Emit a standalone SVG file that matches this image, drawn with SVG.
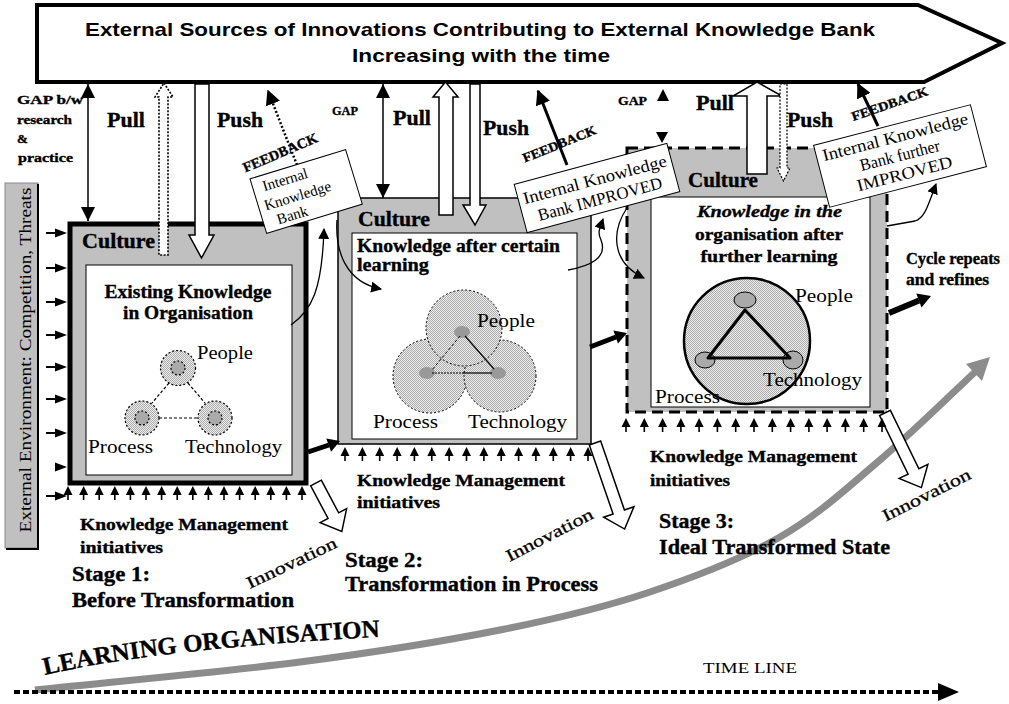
<svg xmlns="http://www.w3.org/2000/svg" width="1009" height="704" viewBox="0 0 1009 704">
<style>
text{font-family:"Liberation Serif","Times New Roman",serif;fill:#000}
.b{font-weight:bold;stroke:#000;stroke-width:0.35}
.i{font-style:italic}
.sans{font-family:"Liberation Sans",Arial,sans-serif;font-weight:bold}
.ln{fill:none;stroke:#000;stroke-width:1.3}
.gbox{fill:#c0c0c0}
.wbox{fill:#fff;stroke:#000;stroke-width:1}
.note{fill:#fff;stroke:#000;stroke-width:1}
.hol{fill:#fff;stroke:#000;stroke-width:1.5;stroke-linejoin:miter}
.stip{fill:url(#st)}
.inn{stroke:#000;stroke-width:0.3}
</style>
<defs>
<pattern id="st" width="2" height="2" patternUnits="userSpaceOnUse"><rect width="2" height="2" fill="#eeeeee"/><rect width="1" height="1" fill="#ababab"/><rect x="1" y="1" width="1" height="1" fill="#ababab"/></pattern>
<marker id="gh" viewBox="0 0 10 10" refX="10" refY="5" markerWidth="14" markerHeight="14" markerUnits="userSpaceOnUse" orient="auto-start-reverse"><path d="M0,0 L10,5 L0,10 z"/></marker>
<marker id="fh" viewBox="0 0 10 10" refX="9" refY="5" markerWidth="15" markerHeight="15" markerUnits="userSpaceOnUse" orient="auto"><path d="M0,0 L10,5 L0,10 z"/></marker>
<marker id="ch" viewBox="0 0 10 10" refX="9" refY="5" markerWidth="11" markerHeight="11" markerUnits="userSpaceOnUse" orient="auto"><path d="M0,0 L10,5 L0,10 z"/></marker>
<g id="ua"><path d="M0,0 L4.5,9 L-4.5,9 Z"/><line x1="0" y1="8" x2="0" y2="14" stroke="#000" stroke-width="1.6"/></g>
<g id="ra"><line x1="-21" y1="0" x2="-10" y2="0" stroke="#000" stroke-width="2"/><path d="M0,0 L-12,-4.5 L-12,4.5 Z"/></g>
</defs>

<rect width="1009" height="704" fill="#fff"/>

<!-- Banner -->
<g id="banner">
<path d="M37,5 L918,5 L1002,43 L924,82 L37,82 Z" fill="#fff" stroke="#000" stroke-width="4"/>
<text class="sans" x="480" y="36" text-anchor="middle" font-size="19" textLength="790" lengthAdjust="spacingAndGlyphs">External Sources of Innovations Contributing to External Knowledge Bank</text>
<text class="sans" x="481" y="62" text-anchor="middle" font-size="19" textLength="258" lengthAdjust="spacingAndGlyphs">Increasing with the time</text>
</g>

<!-- External environment -->
<g id="ext-env">
<rect x="5" y="183" width="33" height="365" fill="#c0c0c0" stroke="#888" stroke-width="1"/>
<path d="M38,184 V549 H6" fill="none" stroke="#000" stroke-width="2"/>
<text transform="translate(31,360) rotate(-90)" text-anchor="middle" font-size="17" textLength="345" lengthAdjust="spacingAndGlyphs">External Environment: Competition, Threats</text>
</g>

<!-- Learning organisation curve -->
<g id="learning-curve">
<path d="M35,690 C79,685 222.5,672 300,662 C377.5,652 442,641.5 500,630 C557.8,618.5 600.3,608.5 647,593 C693.7,577.5 741.2,559.2 780,537 C818.8,514.8 847.5,487.5 880,460 C912.5,432.5 959.2,386.7 975,372" fill="none" stroke="#8c8c8c" stroke-width="7"/>
<polygon points="990,357 982,381 966,364" fill="#8c8c8c"/>
<path id="lop" d="M45,675 Q160,648 395,636" fill="none"/>
<text class="b" font-size="25"><textPath href="#lop">LEARNING ORGANISATION</textPath></text>
</g>

<!-- Stage 1 -->
<g id="stage1">
<rect x="70" y="224" width="236" height="259" class="gbox" stroke="#000" stroke-width="5"/>
<rect x="86" y="265" width="206" height="210" class="wbox"/>
<text class="b" x="82" y="248" font-size="20" textLength="73" lengthAdjust="spacingAndGlyphs">Culture</text>
<text class="b" x="188" y="298" text-anchor="middle" font-size="18" textLength="167" lengthAdjust="spacingAndGlyphs">Existing Knowledge</text>
<text class="b" x="188" y="319" text-anchor="middle" font-size="18" textLength="130" lengthAdjust="spacingAndGlyphs">in Organisation</text>
<g stroke="#000" stroke-width="1.2" stroke-dasharray="3,2">
<line x1="169" y1="383" x2="152" y2="403"/>
<line x1="188" y1="383" x2="205" y2="403"/>
<line x1="159" y1="418" x2="198" y2="418"/>
</g>
<g stroke="#000" stroke-width="1.2" stroke-dasharray="2,2">
<circle cx="178" cy="368" r="17.5" class="stip"/>
<circle cx="142" cy="418" r="17" class="stip"/>
<circle cx="215" cy="418" r="17" class="stip"/>
<circle cx="178" cy="368" r="7" fill="#aaa"/>
<circle cx="142" cy="418" r="7" fill="#aaa"/>
<circle cx="215" cy="418" r="7" fill="#aaa"/>
</g>
<text x="197" y="359" font-size="18" textLength="56" lengthAdjust="spacingAndGlyphs">People</text>
<text x="88" y="453" font-size="18" textLength="65" lengthAdjust="spacingAndGlyphs">Process</text>
<text x="185" y="453" font-size="18" textLength="97" lengthAdjust="spacingAndGlyphs">Technology</text>
</g>

<!-- Stage 2 -->
<g id="stage2">
<rect x="338" y="198" width="253" height="246" class="gbox" stroke="#000" stroke-width="1.5"/>
<rect x="352" y="233" width="225" height="206" class="wbox"/>
<text class="b" x="358" y="226" font-size="20" textLength="72" lengthAdjust="spacingAndGlyphs">Culture</text>
<text class="b" x="357" y="252" font-size="18" textLength="203" lengthAdjust="spacingAndGlyphs">Knowledge after certain</text>
<text class="b" x="357" y="271" font-size="18" textLength="72" lengthAdjust="spacingAndGlyphs">learning</text>
<g stroke="#000" stroke-width="1" stroke-dasharray="2,2">
<circle cx="430" cy="376" r="37" class="stip"/>
<circle cx="500" cy="376" r="36" class="stip"/>
<circle cx="464" cy="328" r="38" class="stip"/>
</g>
<ellipse cx="462" cy="332" rx="8" ry="6" fill="#999"/>
<ellipse cx="427" cy="373" rx="8" ry="6" fill="#999"/>
<ellipse cx="498" cy="373" rx="8" ry="6" fill="#999"/>
<line x1="460" y1="336" x2="432" y2="370" stroke="#000" stroke-width="1" stroke-dasharray="3,2"/>
<line x1="465" y1="336" x2="494" y2="369" stroke="#000" stroke-width="1.2"/>
<line x1="432" y1="373" x2="462" y2="373" stroke="#000" stroke-width="1" stroke-dasharray="2,1"/>
<line x1="462" y1="373" x2="492" y2="373" stroke="#000" stroke-width="1.2"/>
<text x="477" y="327" font-size="18" textLength="58" lengthAdjust="spacingAndGlyphs">People</text>
<text x="373" y="428" font-size="18" textLength="65" lengthAdjust="spacingAndGlyphs">Process</text>
<text x="468" y="428" font-size="18" textLength="99" lengthAdjust="spacingAndGlyphs">Technology</text>
</g>

<!-- Stage 3 -->
<g id="stage3">
<rect x="627" y="148" width="260" height="264" class="gbox" stroke="#000" stroke-width="3" stroke-dasharray="11,6"/>
<rect x="651" y="197" width="219" height="210" class="wbox"/>
<text class="b" x="688" y="187" font-size="20" textLength="70" lengthAdjust="spacingAndGlyphs">Culture</text>
<text class="b i" x="697" y="217" font-size="17" textLength="145" lengthAdjust="spacingAndGlyphs">Knowledge in the</text>
<text class="b" x="769" y="240" text-anchor="middle" font-size="17" textLength="148" lengthAdjust="spacingAndGlyphs">organisation after</text>
<text class="b" x="769" y="262" text-anchor="middle" font-size="17" textLength="137" lengthAdjust="spacingAndGlyphs">further learning</text>
<circle cx="747" cy="341" r="63" class="stip" stroke="#000" stroke-width="2.5"/>
<ellipse cx="745" cy="300" rx="11" ry="8" fill="#aaa" stroke="#000" stroke-width="1"/>
<ellipse cx="705" cy="360" rx="10" ry="8" fill="#aaa" stroke="#000" stroke-width="1"/>
<ellipse cx="793" cy="360" rx="10" ry="9" fill="#aaa" stroke="#000" stroke-width="1"/>
<polygon points="745,310 708,358 790,358" fill="none" stroke="#000" stroke-width="3" stroke-linejoin="round"/>
<text x="795" y="302" font-size="18" textLength="58" lengthAdjust="spacingAndGlyphs">People</text>
<text x="763" y="386" font-size="18" textLength="99" lengthAdjust="spacingAndGlyphs">Technology</text>
<text x="655" y="403" font-size="18" textLength="65" lengthAdjust="spacingAndGlyphs">Process</text>
</g>

<!-- Connectors -->
<g id="connectors">
<use href="#ra" x="67" y="233"/>
<use href="#ra" x="67" y="268"/>
<use href="#ra" x="67" y="302"/>
<use href="#ra" x="67" y="335"/>
<use href="#ra" x="67" y="367"/>
<use href="#ra" x="67" y="399"/>
<use href="#ra" x="67" y="433"/>
<path d="M67,467 L55,462.5 L55,471.5 Z"/>
<use href="#ra" x="67" y="496"/>

<line x1="88" y1="84" x2="88" y2="221" stroke="#000" stroke-width="1.5" marker-start="url(#gh)" marker-end="url(#gh)"/>
<line x1="383" y1="84" x2="383" y2="198" stroke="#000" stroke-width="1.5" marker-start="url(#gh)" marker-end="url(#gh)"/>
<path d="M663,89 L669,101 L657,101 Z"/>
<path d="M662,143 L668,132 L656,132 Z"/>

<path d="M164,83 L173,97 L168,97 L168,255 L159,255 L159,97 L155,97 Z" fill="#fff" stroke="#000" stroke-width="1.6" stroke-dasharray="2,1.5"/>
<path d="M195,84 L209,84 L209,235 L214,235 L201.5,258 L189,235 L195,235 Z" class="hol" stroke-width="3"/>
<path d="M445.5,82 L458,97 L453,97 L453,215 L439,215 L439,97 L433,97 Z" class="hol" stroke-width="3"/>
<path d="M470,84 L480,84 L480,205 L486,205 L475,225 L463,205 L470,205 Z" class="hol" stroke-width="1.5"/>
<path d="M757,82 L782,96 L767,96 L767,174 L747,174 L747,96 L733,96 Z" class="hol" stroke-width="3.5"/>
<path d="M780,84 L787,84 L787,168 L790,168 L783.5,181 L777,168 L780,168 Z" fill="#fff" stroke="#000" stroke-width="1.2" stroke-dasharray="2,1.5"/>

<line x1="297" y1="165" x2="268" y2="91" stroke="#000" stroke-width="2.5" stroke-dasharray="2,2" marker-end="url(#fh)"/>
<line x1="567" y1="165" x2="538" y2="91" stroke="#000" stroke-width="3" marker-end="url(#fh)"/>
<line x1="878" y1="126" x2="858" y2="84" stroke="#000" stroke-width="3" marker-end="url(#fh)"/>

<line x1="308" y1="452" x2="329" y2="445" stroke="#000" stroke-width="5"/>
<polygon points="340,441 331.1,451.7 326.3,438.5"/>
<line x1="590" y1="347" x2="616" y2="337" stroke="#000" stroke-width="5"/>
<polygon points="627,333 618,343.6 613.4,330.4"/>
<line x1="889" y1="313" x2="919" y2="300.5" stroke="#000" stroke-width="6"/>
<polygon points="931,296 921.5,307.5 916.3,293.5"/>

<path d="M291,325 C312,310 322,290 324,229" class="ln" marker-end="url(#ch)"/>
<path d="M337,220 C335,250 345,282 381,289" class="ln" marker-end="url(#ch)"/>
<path d="M568,270 C590,266 608,258 601,240 C597,232 600,228 603,219" class="ln" marker-end="url(#ch)"/>
<path d="M627,208 C612,230 610,262 644,278" class="ln" marker-end="url(#ch)"/>
<path d="M887,226 L915,221 C925,218 928,205 936,184" class="ln" marker-end="url(#ch)"/>

<polygon transform="translate(316,483) rotate(62)" points="0,-6 37,-6 37,-15 55,0 37,15 37,6 0,6" class="hol"/>
<polygon transform="translate(595,443) rotate(71)" points="0,-6 73,-6 73,-16 91,0 73,16 73,6 0,6" class="hol"/>
<polygon transform="translate(885,413) rotate(64)" points="0,-6 65,-6 65,-16 83,0 65,16 65,6 0,6" class="hol"/>

<use href="#ua" x="68" y="486"/><use href="#ua" x="83.6" y="486"/><use href="#ua" x="99.2" y="486"/><use href="#ua" x="114.8" y="486"/>
<use href="#ua" x="130.4" y="486"/><use href="#ua" x="146" y="486"/><use href="#ua" x="161.6" y="486"/><use href="#ua" x="177.2" y="486"/>
<use href="#ua" x="192.8" y="486"/><use href="#ua" x="208.4" y="486"/><use href="#ua" x="224" y="486"/><use href="#ua" x="239.6" y="486"/>
<use href="#ua" x="255.2" y="486"/><use href="#ua" x="270.8" y="486"/><use href="#ua" x="286.4" y="486"/><use href="#ua" x="302" y="486"/>
<use href="#ua" x="345" y="447"/><use href="#ua" x="362.4" y="447"/><use href="#ua" x="379.7" y="447"/><use href="#ua" x="397.1" y="447"/>
<use href="#ua" x="414.4" y="447"/><use href="#ua" x="431.8" y="447"/><use href="#ua" x="449.1" y="447"/><use href="#ua" x="466.5" y="447"/>
<use href="#ua" x="483.9" y="447"/><use href="#ua" x="501.2" y="447"/><use href="#ua" x="518.6" y="447"/><use href="#ua" x="535.9" y="447"/>
<use href="#ua" x="553.3" y="447"/><use href="#ua" x="570.6" y="447"/><use href="#ua" x="588" y="447"/>
<use href="#ua" x="626" y="418"/><use href="#ua" x="644.3" y="418"/><use href="#ua" x="662.6" y="418"/><use href="#ua" x="680.9" y="418"/>
<use href="#ua" x="699.1" y="418"/><use href="#ua" x="717.4" y="418"/><use href="#ua" x="735.7" y="418"/><use href="#ua" x="754" y="418"/>
<use href="#ua" x="772.3" y="418"/><use href="#ua" x="790.6" y="418"/><use href="#ua" x="808.9" y="418"/><use href="#ua" x="827.1" y="418"/>
<use href="#ua" x="845.4" y="418"/><use href="#ua" x="863.7" y="418"/><use href="#ua" x="882" y="418"/>

<line x1="14" y1="692" x2="940" y2="692" stroke="#000" stroke-width="4" stroke-dasharray="6,3"/>
<polygon points="938,683 959,692 938,701"/>
</g>

<!-- Notes -->
<g id="note1" transform="translate(306,191) rotate(-17)">
<rect x="-50" y="-28" width="100" height="57" class="note"/>
<text x="-40" y="-12" font-size="15">Internal</text>
<text x="-44" y="7" font-size="15">Knowledge</text>
<text x="-36" y="24" font-size="15">Bank</text>
</g>
<g id="note2" transform="translate(597,188) rotate(-15)">
<rect x="-79" y="-25" width="158" height="50" class="note"/>
<text x="0" y="-3" text-anchor="middle" font-size="17" textLength="148" lengthAdjust="spacingAndGlyphs">Internal Knowledge</text>
<text x="0" y="17" text-anchor="middle" font-size="17" textLength="128" lengthAdjust="spacingAndGlyphs">Bank IMPROVED</text>
</g>
<g id="note3" transform="translate(900,156) rotate(-14.5)">
<rect x="-81" y="-32" width="162" height="64" class="note"/>
<text x="0" y="-14" text-anchor="middle" font-size="17" textLength="150" lengthAdjust="spacingAndGlyphs">Internal Knowledge</text>
<text x="0" y="5" text-anchor="middle" font-size="17" textLength="82" lengthAdjust="spacingAndGlyphs">Bank further</text>
<text x="0" y="24" text-anchor="middle" font-size="17" textLength="98" lengthAdjust="spacingAndGlyphs">IMPROVED</text>
</g>

<!-- Labels -->
<g id="labels">
<text class="b" x="17" y="104" font-size="13" textLength="66" lengthAdjust="spacingAndGlyphs">GAP b/w</text>
<text class="b" x="17" y="124" font-size="13" textLength="55" lengthAdjust="spacingAndGlyphs">research</text>
<text class="b" x="17" y="143" font-size="13">&amp;</text>
<text class="b" x="18" y="162" font-size="13" textLength="55" lengthAdjust="spacingAndGlyphs">practice</text>
<text class="b" x="332" y="115" font-size="13" textLength="26" lengthAdjust="spacingAndGlyphs">GAP</text>
<text class="b" x="618" y="105" font-size="13" textLength="29" lengthAdjust="spacingAndGlyphs">GAP</text>

<text class="b" x="107" y="127" font-size="21" textLength="38" lengthAdjust="spacingAndGlyphs">Pull</text>
<text class="b" x="217" y="127" font-size="21" textLength="46" lengthAdjust="spacingAndGlyphs">Push</text>
<text class="b" x="393" y="125" font-size="21" textLength="38" lengthAdjust="spacingAndGlyphs">Pull</text>
<text class="b" x="483" y="135" font-size="21" textLength="46" lengthAdjust="spacingAndGlyphs">Push</text>
<text class="b" x="696" y="110" font-size="21" textLength="38" lengthAdjust="spacingAndGlyphs">Pull</text>
<text class="b" x="787" y="127" font-size="21" textLength="46" lengthAdjust="spacingAndGlyphs">Push</text>

<text class="b" transform="translate(282,157) rotate(-23)" text-anchor="middle" font-size="14" textLength="80" lengthAdjust="spacingAndGlyphs">FEEDBACK</text>
<text class="b" transform="translate(561,148) rotate(-22)" text-anchor="middle" font-size="13" textLength="78" lengthAdjust="spacingAndGlyphs">FEEDBACK</text>
<text class="b" transform="translate(891,108) rotate(-19)" text-anchor="middle" font-size="13" textLength="80" lengthAdjust="spacingAndGlyphs">FEEDBACK</text>

<text class="b" x="80" y="530" font-size="17" textLength="208" lengthAdjust="spacingAndGlyphs">Knowledge Management</text>
<text class="b" x="80" y="553" font-size="17" textLength="83" lengthAdjust="spacingAndGlyphs">initiatives</text>
<text class="b" x="357" y="486" font-size="17" textLength="208" lengthAdjust="spacingAndGlyphs">Knowledge Management</text>
<text class="b" x="357" y="508" font-size="17" textLength="83" lengthAdjust="spacingAndGlyphs">initiatives</text>
<text class="b" x="650" y="462" font-size="17" textLength="207" lengthAdjust="spacingAndGlyphs">Knowledge Management</text>
<text class="b" x="650" y="486" font-size="17" textLength="80" lengthAdjust="spacingAndGlyphs">initiatives</text>

<text class="b" x="72" y="581" font-size="20" textLength="78" lengthAdjust="spacingAndGlyphs">Stage 1:</text>
<text class="b" x="72" y="607" font-size="20" textLength="222" lengthAdjust="spacingAndGlyphs">Before Transformation</text>
<text class="b" x="345" y="567" font-size="20" textLength="78" lengthAdjust="spacingAndGlyphs">Stage 2:</text>
<text class="b" x="345" y="591" font-size="20" textLength="253" lengthAdjust="spacingAndGlyphs">Transformation in Process</text>
<text class="b" x="659" y="528" font-size="20" textLength="75" lengthAdjust="spacingAndGlyphs">Stage 3:</text>
<text class="b" x="659" y="554" font-size="20" textLength="231" lengthAdjust="spacingAndGlyphs">Ideal Transformed State</text>

<text class="inn" transform="translate(294,568) rotate(-25.5)" text-anchor="middle" font-size="17" textLength="98" lengthAdjust="spacingAndGlyphs">Innovation</text>
<text class="inn" transform="translate(552,540) rotate(-27.4)" text-anchor="middle" font-size="17" textLength="96" lengthAdjust="spacingAndGlyphs">Innovation</text>
<text class="inn" transform="translate(929,500) rotate(-26.8)" text-anchor="middle" font-size="17" textLength="97" lengthAdjust="spacingAndGlyphs">Innovation</text>

<text class="b" x="906" y="264" font-size="16" textLength="94" lengthAdjust="spacingAndGlyphs">Cycle repeats</text>
<text class="b" x="906" y="285" font-size="16" textLength="83" lengthAdjust="spacingAndGlyphs">and refines</text>

<text x="703" y="673" font-size="14" textLength="94" lengthAdjust="spacingAndGlyphs">TIME LINE</text>
</g>
</svg>
